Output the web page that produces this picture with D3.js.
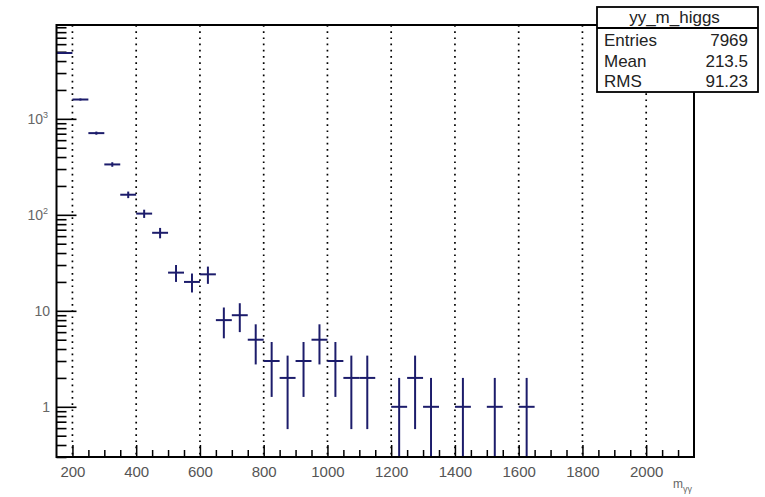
<!DOCTYPE html>
<html>
<head>
<meta charset="utf-8">
<script src="https://cdn.jsdelivr.net/npm/d3@7"></script>
<style>
  body { margin: 0; background: #fff; }
  svg { font-family: "Liberation Sans", Arial, sans-serif; }
</style>
</head>
<body>
<svg id="chart" width="765" height="497"></svg>
<script>
// histogram yy_m_higgs, bins of 50 GeV
var binCenters = [175, 225, 275, 325, 375, 425, 475, 525, 575, 625, 675, 725, 775, 825, 875, 925, 975, 1025, 1075, 1125, 1225, 1275, 1325, 1425, 1525, 1625];
var counts = [4850, 1590, 710, 335, 162, 103, 65, 25, 20, 24, 8, 9, 5, 3, 2, 3, 5, 3, 2, 2, 1, 2, 1, 1, 1, 1];
var binWidth = 50;

var xMajorTicks = [200, 400, 600, 800, 1000, 1200, 1400, 1600, 1800, 2000];
var yMajorTicks = [1, 10, 100, 1000];
var yTickLabels = ["1", "10", "10^2", "10^3"];

var statsTitle = "yy_m_higgs";
var statsNames = ["Entries", "Mean", "RMS"];
var statsValues = ["7969", "213.5", "91.23"];

var svg = d3.select("#chart");

// frame edges (window.top is reserved, so use other names)
var fLeft = 56.5, fRight = 694, fTop = 25, fBottom = 457;

var x = d3.scaleLinear().domain([150, 2150]).range([fLeft, fRight]);
var y = d3.scaleLog().domain([0.3, 9500]).range([fBottom, fTop]);

// dotted vertical grid
svg.append("g")
    .selectAll("line")
    .data(xMajorTicks)
    .enter().append("line")
    .attr("x1", function(d) { return x(d); })
    .attr("x2", function(d) { return x(d); })
    .attr("y1", fTop)
    .attr("y2", fBottom)
    .attr("stroke", "#000")
    .attr("stroke-width", 1.7)
    .attr("stroke-dasharray", "1.7 4.5");

// x axis minor + major ticks
var xMinor = d3.range(200, 2150, 50).filter(function(d) { return d % 200 != 0; });

svg.append("g")
    .attr("transform", "translate(0," + fBottom + ")")
    .call(d3.axisBottom(x).tickValues(xMinor).tickSize(-7).tickFormat(""))
    .call(function(g) { g.select(".domain").remove(); })
    .selectAll("line").attr("stroke-width", 1.5);

var xAx = svg.append("g")
    .attr("transform", "translate(0," + fBottom + ")")
    .call(d3.axisBottom(x).tickValues(xMajorTicks).tickSize(-12).tickPadding(9).tickFormat(d3.format("d")));
xAx.select(".domain").remove();
xAx.selectAll("line").attr("stroke-width", 1.5);
xAx.selectAll("text")
    .attr("font-size", 15)
    .attr("fill", "#555")
    .attr("font-family", "Liberation Sans, Arial, sans-serif");

// y axis ticks
var yMinor = [];
[0.1, 1, 10, 100, 1000].forEach(function(dec) {
    for (var k = 2; k <= 9; k++) {
        var v = dec * k;
        if (v >= 0.3 && v <= 9500) yMinor.push(v);
    }
});

svg.append("g")
    .attr("transform", "translate(" + fLeft + ",0)")
    .call(d3.axisLeft(y).tickValues(yMinor).tickSize(-10).tickFormat(""))
    .call(function(g) { g.select(".domain").remove(); })
    .selectAll("line").attr("stroke-width", 1.6);

svg.append("g")
    .attr("transform", "translate(" + fLeft + ",0)")
    .call(d3.axisLeft(y).tickValues(yMajorTicks).tickSize(-20).tickFormat(""))
    .call(function(g) { g.select(".domain").remove(); })
    .selectAll("line").attr("stroke-width", 1.6);

var yLab = svg.append("g")
    .selectAll("text")
    .data(yMajorTicks)
    .enter().append("text")
    .attr("x", function(d, i) { return i >= 2 ? 48 : 50; })
    .attr("y", function(d) { return y(d) + 5; })
    .attr("text-anchor", "end")
    .attr("font-size", 14)
    .attr("fill", "#666");

yLab.each(function(d, i) {
    var t = d3.select(this);
    var parts = yTickLabels[i].split("^");
    t.append("tspan").text(parts[0]);
    if (parts[1]) {
        t.append("tspan").attr("dy", -6).attr("font-size", 9).text(parts[1]);
    }
});

// histogram markers: horizontal bin width + vertical sqrt(N) errors
var hist = svg.append("g")
    .attr("stroke", "#1c1c6b")
    .attr("stroke-width", 2);

hist.selectAll(".hbar")
    .data(binCenters)
    .enter().append("line")
    .attr("class", "hbar")
    .attr("x1", function(d) { return x(d - binWidth / 2); })
    .attr("x2", function(d) { return x(d + binWidth / 2); })
    .attr("y1", function(d, i) { return y(counts[i]); })
    .attr("y2", function(d, i) { return y(counts[i]); });

hist.selectAll(".vbar")
    .data(binCenters)
    .enter().append("line")
    .attr("class", "vbar")
    .attr("x1", function(d) { return x(d); })
    .attr("x2", function(d) { return x(d); })
    .attr("y1", function(d, i) {
        var lo = counts[i] - Math.sqrt(counts[i]);
        return lo <= 0.3 ? fBottom : y(lo);
    })
    .attr("y2", function(d, i) { return y(counts[i] + Math.sqrt(counts[i])); });

// frame
svg.append("rect")
    .attr("x", fLeft)
    .attr("y", fTop)
    .attr("width", fRight - fLeft)
    .attr("height", fBottom - fTop)
    .attr("fill", "none")
    .attr("stroke", "#000")
    .attr("stroke-width", 2);

// x title m_{yy}
var xt = svg.append("text")
    .attr("x", fRight - 2)
    .attr("y", 488)
    .attr("text-anchor", "end")
    .attr("font-size", 12)
    .attr("fill", "#666");
xt.append("tspan").text("m");
xt.append("tspan").attr("dy", 4).attr("font-size", 9).text("γγ");

// stats box
var bx = 597, by = 7, bw = 161, bh = 85;
var stats = svg.append("g");
stats.append("rect")
    .attr("x", bx).attr("y", by)
    .attr("width", bw).attr("height", bh)
    .attr("fill", "#fff")
    .attr("stroke", "#000")
    .attr("stroke-width", 1.8);
stats.append("line")
    .attr("x1", bx).attr("x2", bx + bw)
    .attr("y1", 28).attr("y2", 28)
    .attr("stroke", "#000")
    .attr("stroke-width", 1.8);
stats.append("text")
    .attr("x", bx + bw / 2 - 3)
    .attr("y", 23)
    .attr("text-anchor", "middle")
    .attr("font-size", 17)
    .attr("fill", "#222")
    .text(statsTitle);

var rowY = [46, 66.5, 87];

stats.selectAll(".sname")
    .data(statsNames)
    .enter().append("text")
    .attr("x", bx + 7)
    .attr("y", function(d, i) { return rowY[i]; })
    .attr("font-size", 17)
    .attr("fill", "#222")
    .text(function(d) { return d; });

stats.selectAll(".sval")
    .data(statsValues)
    .enter().append("text")
    .attr("x", bx + bw - 10)
    .attr("y", function(d, i) { return rowY[i]; })
    .attr("text-anchor", "end")
    .attr("font-size", 17)
    .attr("fill", "#222")
    .text(function(d) { return d; });
</script>
</body>
</html>
